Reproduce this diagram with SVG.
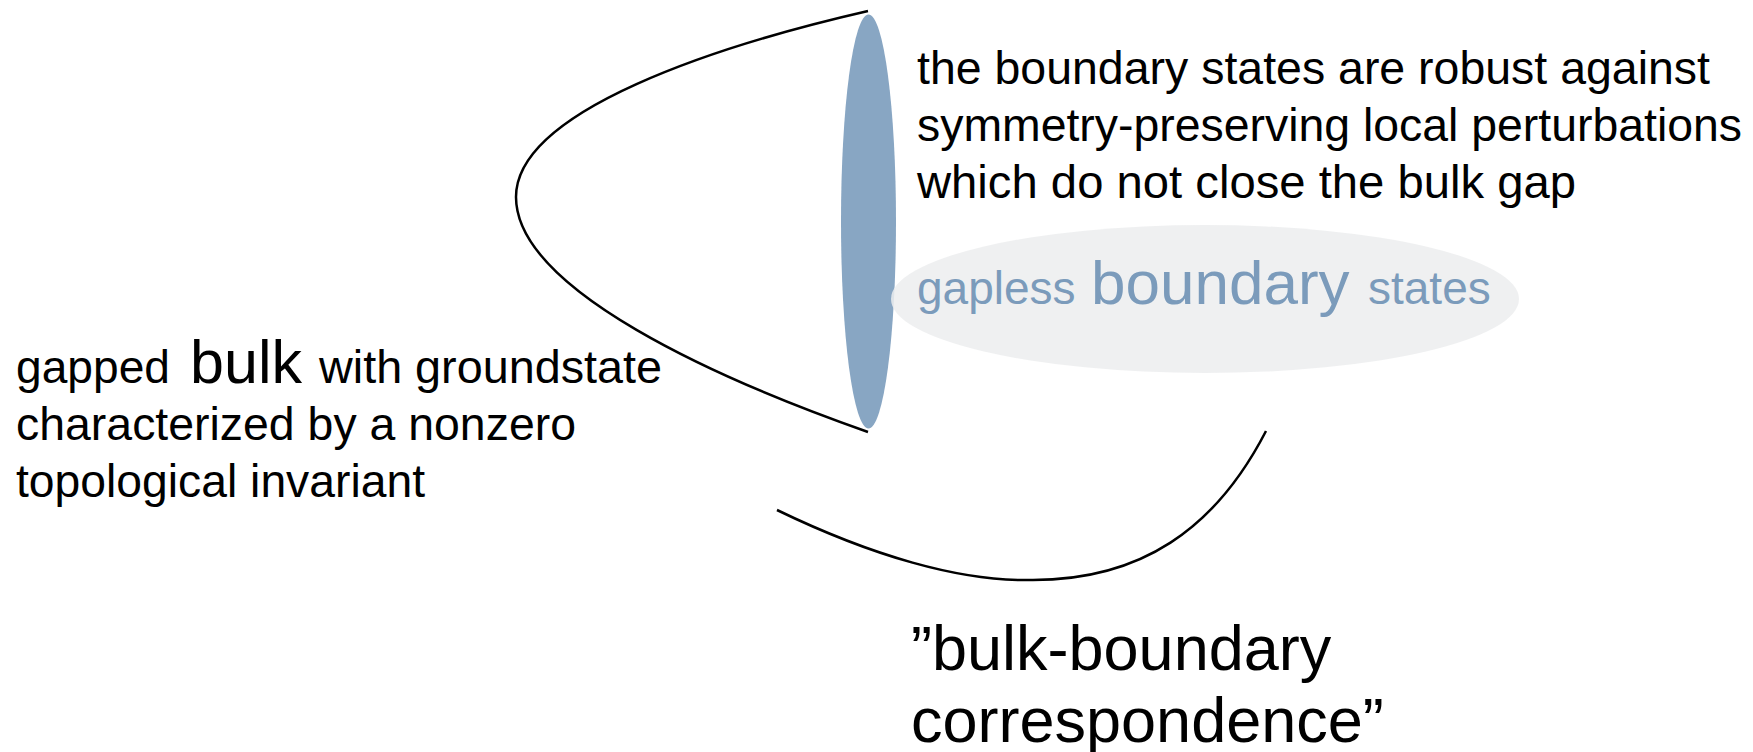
<svg xmlns="http://www.w3.org/2000/svg" width="1753" height="752" viewBox="0 0 1753 752">
  <style>
    text { font-family: "Liberation Sans", Arial, Helvetica, sans-serif; fill: #000000; }
    .t46 { font-size: 46px; }
    .big { font-size: 62px; }
    .blue { fill: #7B9BBB; }
    .line { fill: none; stroke: #000000; stroke-width: 2.5; stroke-linecap: butt; }
  </style>
  <rect width="1753" height="752" fill="#FFFFFF"/>

  <g id="bulk-region">
    <ellipse cx="868.5" cy="221.5" rx="27.5" ry="207" fill="#88A6C3"/>
    <path class="line" d="M868,11 C720,45 516,110 516,197 C516,290 720,380 868,432"/>
  </g>

  <g id="boundary-states">
    <ellipse cx="1205" cy="299" rx="314" ry="74" fill="#ECEDEF" fill-opacity="0.85"/>
    <text class="t46 blue" x="917" y="304">gapless</text>
    <text class="big blue" x="1091" y="304">boundary</text>
    <text class="t46 blue" x="1368" y="304">states</text>
  </g>

  <g id="robustness-note">
    <text class="t46" x="917" y="84" textLength="793" lengthAdjust="spacingAndGlyphs">the boundary states are robust against</text>
    <text class="t46" x="917" y="141" textLength="825" lengthAdjust="spacingAndGlyphs">symmetry-preserving local perturbations</text>
    <text class="t46" x="917" y="198" textLength="659" lengthAdjust="spacingAndGlyphs">which do not close the bulk gap</text>
  </g>

  <g id="bulk-label">
    <text class="t46" x="16" y="383" textLength="154" lengthAdjust="spacingAndGlyphs">gapped</text>
    <text class="big" x="190" y="383" textLength="112" lengthAdjust="spacingAndGlyphs">bulk</text>
    <text class="t46" x="319" y="383" textLength="343" lengthAdjust="spacingAndGlyphs">with groundstate</text>
    <text class="t46" x="16" y="440" textLength="560" lengthAdjust="spacingAndGlyphs">characterized by a nonzero</text>
    <text class="t46" x="16" y="497" textLength="409" lengthAdjust="spacingAndGlyphs">topological invariant</text>
  </g>

  <g id="correspondence-label">
    <text x="911" y="670" font-size="63">”bulk-boundary</text>
    <text x="911" y="742" font-size="63">correspondence”</text>
  </g>

  <g id="connectors">
    <path class="line" d="M777,510 C870,555 960,582 1033,580 C1140,580 1215,530 1266,431"/>
  </g>
</svg>
